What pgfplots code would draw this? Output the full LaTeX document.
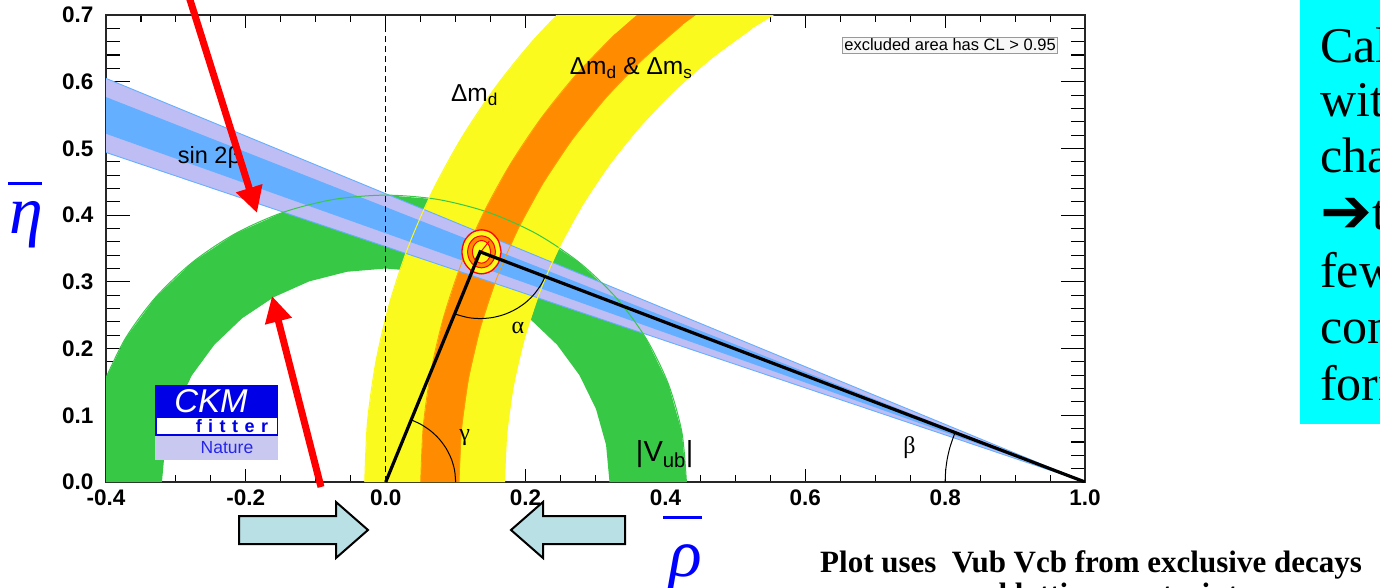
\documentclass[border=0pt]{standalone}
\usepackage{pgfplots}
\pgfplotsset{compat=1.18}
\usepackage{fontspec}
\setmainfont{Liberation Sans}
\newfontfamily\timesfont{Liberation Serif}
\newfontfamily\symfont{DejaVu Sans}
\usetikzlibrary{arrows.meta}

\definecolor{dmyellow}{RGB}{250,250,30}
\definecolor{dmorange}{RGB}{255,140,0}
\definecolor{vubgreen}{RGB}{55,200,70}
\definecolor{sbouter}{RGB}{190,190,245}
\definecolor{sbinner}{RGB}{100,175,255}
\definecolor{ckmblue}{RGB}{0,0,230}
\definecolor{ckmlav}{RGB}{200,200,240}
\definecolor{slidecyan}{RGB}{0,255,255}
\definecolor{boxarrow}{RGB}{185,224,228}
\definecolor{labelblue}{RGB}{0,0,255}

\begin{document}
\begin{tikzpicture}[x=1pt,y=1pt]
\useasboundingbox (0,0) rectangle (1380,587);
\clip (0,0) rectangle (1380,587);

\begin{axis}[
  at={(106pt,105pt)}, anchor=south west,
  scale only axis, width=979pt, height=467pt,
  xmin=-0.4, xmax=1.0, ymin=0, ymax=0.7,
  xtick={-0.4,-0.2,0,0.2,0.4,0.6,0.8,1.0},
  ytick={0,0.1,0.2,0.3,0.4,0.5,0.6,0.7},
  minor x tick num=3, minor y tick num=4,
  tick align=inside,
  major tick length=13pt, minor tick length=7pt,
  ytick style={/pgfplots/major tick length=24pt,/pgfplots/minor tick length=14pt},
  tick style={black, line width=1.1pt},
  axis line style={black!85, line width=1.5pt},
  tick label style={font=\fontsize{22.5}{22.5}\selectfont\bfseries,
    /pgf/number format/fixed, /pgf/number format/fixed zerofill,
    /pgf/number format/precision=1, /pgf/number format/assume math mode=true},
  xticklabel style={yshift=-4pt},
  yticklabel style={xshift=-9pt},
]

% |Vub| annulus around (0,0)
\addplot[fill=vubgreen, draw=none] coordinates {
 (0.43,0) (0.4235,0.0747) (0.4041,0.1471) (0.3724,0.215) (0.3294,0.2764) (0.2764,0.3294)
 (0.215,0.3724) (0.1471,0.4041) (0.0747,0.4235) (0,0.43) (-0.0747,0.4235) (-0.1471,0.4041)
 (-0.215,0.3724) (-0.2764,0.3294) (-0.3294,0.2764) (-0.3724,0.215) (-0.4041,0.1471)
 (-0.4235,0.0747) (-0.43,0)
 (-0.32,0) (-0.3151,0.0556) (-0.3007,0.1094) (-0.2771,0.16) (-0.2451,0.2057) (-0.2057,0.2451)
 (-0.16,0.2771) (-0.1094,0.3007) (-0.0556,0.3151) (0,0.32) (0.0556,0.3151) (0.1094,0.3007)
 (0.16,0.2771) (0.2057,0.2451) (0.2451,0.2057) (0.2771,0.16) (0.3007,0.1094) (0.3151,0.0556)
 (0.32,0)
};

% Delta m_d band around (1,0)
\addplot[fill=dmyellow, draw=none] coordinates {
 (-0.03,0) (-0.0261,0.0898) (-0.0143,0.1788) (0.0051,0.2666) (0.0321,0.3523) (0.0665,0.4353)
 (0.1080,0.515) (0.1562,0.5908) (0.2110,0.6621) (0.2717,0.7283) (0.3379,0.789)
 (0.585,0.7189) (0.5239,0.6799) (0.4665,0.6358) (0.4131,0.5869) (0.3642,0.5335) (0.3201,0.4761)
 (0.2812,0.415) (0.2478,0.3508) (0.2200,0.2839) (0.1983,0.2148) (0.1826,0.1441) (0.1732,0.0724)
 (0.17,0)
};

% Delta m_d & Delta m_s band
\addplot[fill=dmorange, draw=none] coordinates {
 (0.05,0) (0.0536,0.0828) (0.0644,0.1649) (0.0824,0.2459) (0.1073,0.3249) (0.1390,0.4015)
 (0.1773,0.475) (0.2218,0.5449) (0.2723,0.6107) (0.3283,0.6718) (0.3893,0.7277)
 (0.4866,0.7332) (0.4247,0.6856) (0.3671,0.6329) (0.3144,0.5753) (0.2668,0.5134) (0.2249,0.4475)
 (0.1889,0.3782) (0.159,0.3061) (0.1355,0.2316) (0.1186,0.1554) (0.1084,0.078) (0.105,0)
};

% sin 2beta wedge from (1,0)
\addplot[fill=sbouter, draw=none] coordinates {(1,0) (-0.4,0.605) (-0.4,0.494)};
\addplot[fill=sbinner, draw=none] coordinates {(1,0) (-0.4,0.577) (-0.4,0.522)};
\addplot[sbinner, line width=0.9pt] coordinates {(1,0) (-0.4,0.605)};
\addplot[sbinner, line width=0.9pt] coordinates {(1,0) (-0.4,0.494)};

% band edges drawn over the wedge
\addplot[vubgreen, line width=1pt, smooth] coordinates {
 (0.43,0) (0.4235,0.0747) (0.4041,0.1471) (0.3724,0.215) (0.3294,0.2764) (0.2764,0.3294)
 (0.215,0.3724) (0.1471,0.4041) (0.0747,0.4235) (0,0.43) (-0.0747,0.4235) (-0.1471,0.4041)
 (-0.215,0.3724) (-0.2764,0.3294) (-0.3294,0.2764) (-0.3724,0.215) (-0.4041,0.1471)};
\addplot[dmyellow, line width=1pt, smooth] coordinates {
 (-0.03,0) (-0.0261,0.0898) (-0.0143,0.1788) (0.0051,0.2666) (0.0321,0.3523) (0.0665,0.4353)
 (0.1080,0.515) (0.1562,0.5908) (0.2110,0.6621) (0.2717,0.7283)};
\addplot[dmyellow, line width=1pt, smooth] coordinates {
 (0.5239,0.6799) (0.4665,0.6358) (0.4131,0.5869) (0.3642,0.5335) (0.3201,0.4761)
 (0.2812,0.415) (0.2478,0.3508) (0.2200,0.2839) (0.1983,0.2148) (0.1826,0.1441) (0.1732,0.0724)
 (0.17,0)};
\addplot[dmorange!85!yellow, line width=0.8pt, smooth] coordinates {
 (0.05,0) (0.0536,0.0828) (0.0644,0.1649) (0.0824,0.2459) (0.1073,0.3249) (0.1390,0.4015)
 (0.1773,0.475) (0.2218,0.5449) (0.2723,0.6107) (0.3283,0.6718)};
\addplot[dmorange!85!yellow, line width=0.8pt, smooth] coordinates {
 (0.4247,0.6856) (0.3671,0.6329) (0.3144,0.5753) (0.2668,0.5134) (0.2249,0.4475)
 (0.1889,0.3782) (0.159,0.3061) (0.1355,0.2316) (0.1186,0.1554) (0.1084,0.078) (0.105,0)};

% global fit contours
\addplot[fill=dmyellow, draw=red, line width=1.3pt, smooth] coordinates {
 (0.165,0.345) (0.1612,0.3615) (0.151,0.3736) (0.137,0.378) (0.123,0.3736) (0.1128,0.3615)
 (0.109,0.345) (0.1128,0.3285) (0.123,0.3164) (0.137,0.312) (0.151,0.3164) (0.1612,0.3285)
 (0.165,0.345)};
\addplot[fill=dmorange, draw=red, line width=1pt, smooth] coordinates {
 (0.157,0.345) (0.1543,0.357) (0.147,0.3658) (0.137,0.369) (0.127,0.3658) (0.1197,0.357)
 (0.117,0.345) (0.1197,0.333) (0.127,0.3242) (0.137,0.321) (0.147,0.3242) (0.1543,0.333)
 (0.157,0.345)};
\addplot[fill=dmyellow, draw=red, line width=1pt, smooth] coordinates {
 (0.150,0.345) (0.1483,0.3535) (0.1435,0.3597) (0.137,0.362) (0.1305,0.3597) (0.1257,0.3535)
 (0.124,0.345) (0.1257,0.3365) (0.1305,0.3303) (0.137,0.328) (0.1435,0.3303) (0.1483,0.3365)
 (0.150,0.345)};
\addplot[red, line width=1pt] coordinates {(0.127,0.333) (0.148,0.361)};

% rho = 0 reference line
\addplot[black, line width=1.2pt, dash pattern=on 6pt off 4pt] coordinates {(0,0) (0,0.7)};

% unitarity triangle
\addplot[black, line width=3.2pt] coordinates {(0,0) (0.135,0.345) (1,0)};
% angle arcs
\addplot[black, line width=1pt, smooth] coordinates {
 (0.1,0) (0.0985,0.0174) (0.094,0.0342) (0.0866,0.05) (0.0766,0.0643) (0.0643,0.0766)
 (0.05,0.0866) (0.0365,0.0931)};
\addplot[black, line width=1pt, smooth] coordinates {
 (0.0985,0.2519) (0.1176,0.2465) (0.135,0.245) (0.1524,0.2465) (0.1692,0.2510) (0.185,0.2584)
 (0.1993,0.2684) (0.2116,0.2807) (0.2216,0.295) (0.2279,0.3079)};
\addplot[black, line width=1pt, smooth] coordinates {
 (0.8,0) (0.8008,0.0174) (0.8030,0.0347) (0.8068,0.0518) (0.8121,0.0684) (0.8142,0.0741)};

% labels
\node[font=\fontsize{24.5}{24.5}\selectfont] at (axis cs:0.127,0.58) {Δm\textsubscript{d}};
\node[font=\fontsize{24.5}{24.5}\selectfont] at (axis cs:0.351,0.62) {Δm\textsubscript{d} \& Δm\textsubscript{s}};
\node[font=\fontsize{23.5}{23.5}\selectfont] at (axis cs:-0.252,0.487) {sin 2β};
\node[font=\fontsize{29}{29}\selectfont] at (axis cs:0.399,0.042) {|V\textsubscript{ub}|};
\node[font=\timesfont\fontsize{24}{24}\selectfont] at (axis cs:0.113,0.067) {γ};
\node[font=\timesfont\fontsize{24}{24}\selectfont] at (axis cs:0.189,0.231) {α};
\node[font=\timesfont\fontsize{24}{24}\selectfont] at (axis cs:0.749,0.052) {β};
\node[draw=gray!80, fill=black!3, line width=0.8pt, inner sep=2pt,
      font=\fontsize{16.5}{16.5}\selectfont] at (axis cs:0.807,0.655) {excluded area has CL > 0.95};
\end{axis}

% CKMfitter logo
\fill[ckmblue] (155,170) rectangle (278,202);
\node[white, font=\fontsize{33}{33}\selectfont\itshape] at (211,186) {CKM};
\draw[ckmblue, line width=1.5pt, fill=white] (155.75,152) rectangle (277.25,170);
\node[ckmblue, font=\fontsize{18}{18}\selectfont\bfseries] at (232,161)
  {f\hspace{6.5pt}i\hspace{6.5pt}t\hspace{6.5pt}t\hspace{6.5pt}e\hspace{6.5pt}r};
\fill[ckmlav] (155,127) rectangle (278,151.25);
\node[ckmblue!85, font=\fontsize{17.5}{17.5}\selectfont] at (227,139) {Nature};

% red pointers
\draw[red, line width=7pt, -{Triangle[length=26pt,width=26pt]}] (186,600) -- (257,374);
\draw[red, line width=7pt, -{Triangle[length=26pt,width=26pt]}] (321,100) -- (272,291);

% block arrows under the axis
\filldraw[fill=boxarrow, draw=black, line width=2pt]
  (239,43) -- (336,43) -- (336,29) -- (368,57) -- (336,85) -- (336,71) -- (239,71) -- cycle;
\filldraw[fill=boxarrow, draw=black, line width=2pt]
  (625,43) -- (543,43) -- (543,29) -- (511,57) -- (543,85) -- (543,71) -- (625,71) -- cycle;

% axis symbols
\draw[labelblue, line width=3pt] (8,403) -- (42,403);
\node[labelblue, font=\timesfont\itshape\fontsize{68}{68}\selectfont, anchor=base, inner sep=0pt] at (26,353) {η};
\draw[labelblue, line width=3pt] (663,70) -- (702,70);
\node[labelblue, font=\timesfont\itshape\fontsize{68}{68}\selectfont, anchor=base, inner sep=0pt] at (686,11) {ρ};

% side panel
\fill[slidecyan] (1300,163) rectangle (1400,600);
\begin{scope}[every node/.style={anchor=base west, inner sep=0pt, font=\timesfont\fontsize{50}{50}\selectfont}]
\node at (1320,524) {Calculations};
\node at (1320,470) {with};
\node at (1320,414) {charm};
\node at (1320,357) {{\symfont\fontsize{62}{62}\selectfont\raisebox{-3pt}{➔}}the};
\node at (1320,300) {fewer};
\node at (1320,244) {constraints};
\node at (1320,187) {form factors};
\end{scope}

% footnote
\node[anchor=base west, inner sep=0pt, font=\timesfont\bfseries\fontsize{31}{31}\selectfont] at (820,15)
  {Plot uses\ \ Vub Vcb from exclusive decays};
\node[anchor=base west, inner sep=0pt, font=\timesfont\bfseries\fontsize{31}{31}\selectfont] at (957,-17)
  {and lattice constraints};
\end{tikzpicture}
\end{document}
